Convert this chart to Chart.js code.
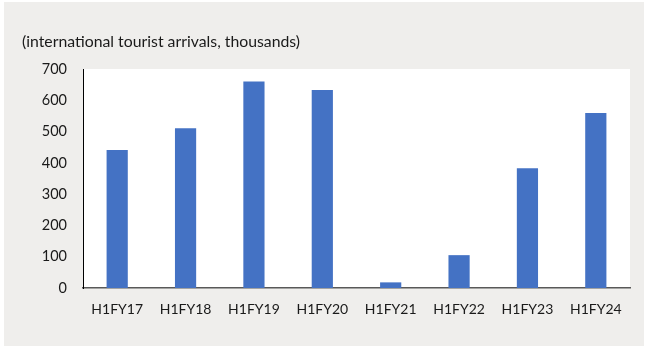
<!DOCTYPE html>
<html>
<head>
<meta charset="utf-8">
<script src="https://cdn.jsdelivr.net/npm/chart.js@4.4.1/dist/chart.umd.min.js"></script>
<style>
  html, body { margin: 0; padding: 0; background: #ffffff; }
  #wrap { width: 648px; height: 346px; position: relative; }
</style>
</head>
<body>
<div id="wrap"><canvas id="c" width="648" height="346"></canvas></div>
<script>
// Half-year periods (H1 of each fiscal year)
const periods = ["H1FY17", "H1FY18", "H1FY19", "H1FY20", "H1FY21", "H1FY22", "H1FY23", "H1FY24"];
// International tourist arrivals, thousands
const arrivals = [441, 511, 660, 633, 18, 105, 383, 559];
// Value axis
const yTicks = [0, 100, 200, 300, 400, 500, 600, 700];
const subtitle = "(international tourist arrivals, thousands)";

const FONT = "Lato, 'Open Sans', sans-serif";

// Grey panel, white plot area and the units caption above it
const panelPlugin = {
  id: "panel",
  beforeDraw(chart) {
    const ctx = chart.ctx;
    const a = chart.chartArea;
    ctx.save();
    ctx.fillStyle = "#ffffff";
    ctx.fillRect(0, 0, chart.width, chart.height);
    ctx.fillStyle = "#efeeec";
    ctx.fillRect(4, 2, 640, 344);
    ctx.fillStyle = "#ffffff";
    ctx.fillRect(a.left, a.top, a.right - a.left, a.bottom - a.top);
    ctx.fillStyle = "#1a1a1a";
    ctx.font = "15.8px " + FONT;
    ctx.textBaseline = "middle";
    ctx.textAlign = "left";
    ctx.fillText(subtitle, 22, 42);
    ctx.restore();
  }
};

new Chart(document.getElementById("c"), {
  type: "bar",
  data: {
    labels: periods,
    datasets: [{
      data: arrivals,
      backgroundColor: "#4472c4",
      borderWidth: 0,
      categoryPercentage: 1,
      barPercentage: 0.31
    }]
  },
  options: {
    responsive: false,
    animation: false,
    devicePixelRatio: 1,
    layout: { padding: { top: 69, right: 18, left: 0, bottom: 0 } },
    plugins: { legend: { display: false }, tooltip: { enabled: false } },
    scales: {
      x: {
        grid: { display: false, drawTicks: false },
        border: { display: true, color: "#595959", width: 1.5 },
        ticks: {
          color: "#1a1a1a",
          font: { family: FONT, size: 14 },
          padding: 13,
          maxRotation: 0
        },
        afterFit(scale) { scale.height = 58; }
      },
      y: {
        min: 0,
        max: 700,
        afterBuildTicks(scale) { scale.ticks = yTicks.map(v => ({ value: v })); },
        grid: { display: false, drawTicks: false },
        border: { display: true, color: "#000000", width: 1 },
        ticks: {
          color: "#1a1a1a",
          font: { family: FONT, size: 14.5 },
          padding: 16
        },
        afterFit(scale) { scale.width = 83; }
      }
    }
  },
  plugins: [panelPlugin]
});
</script>
</body>
</html>
